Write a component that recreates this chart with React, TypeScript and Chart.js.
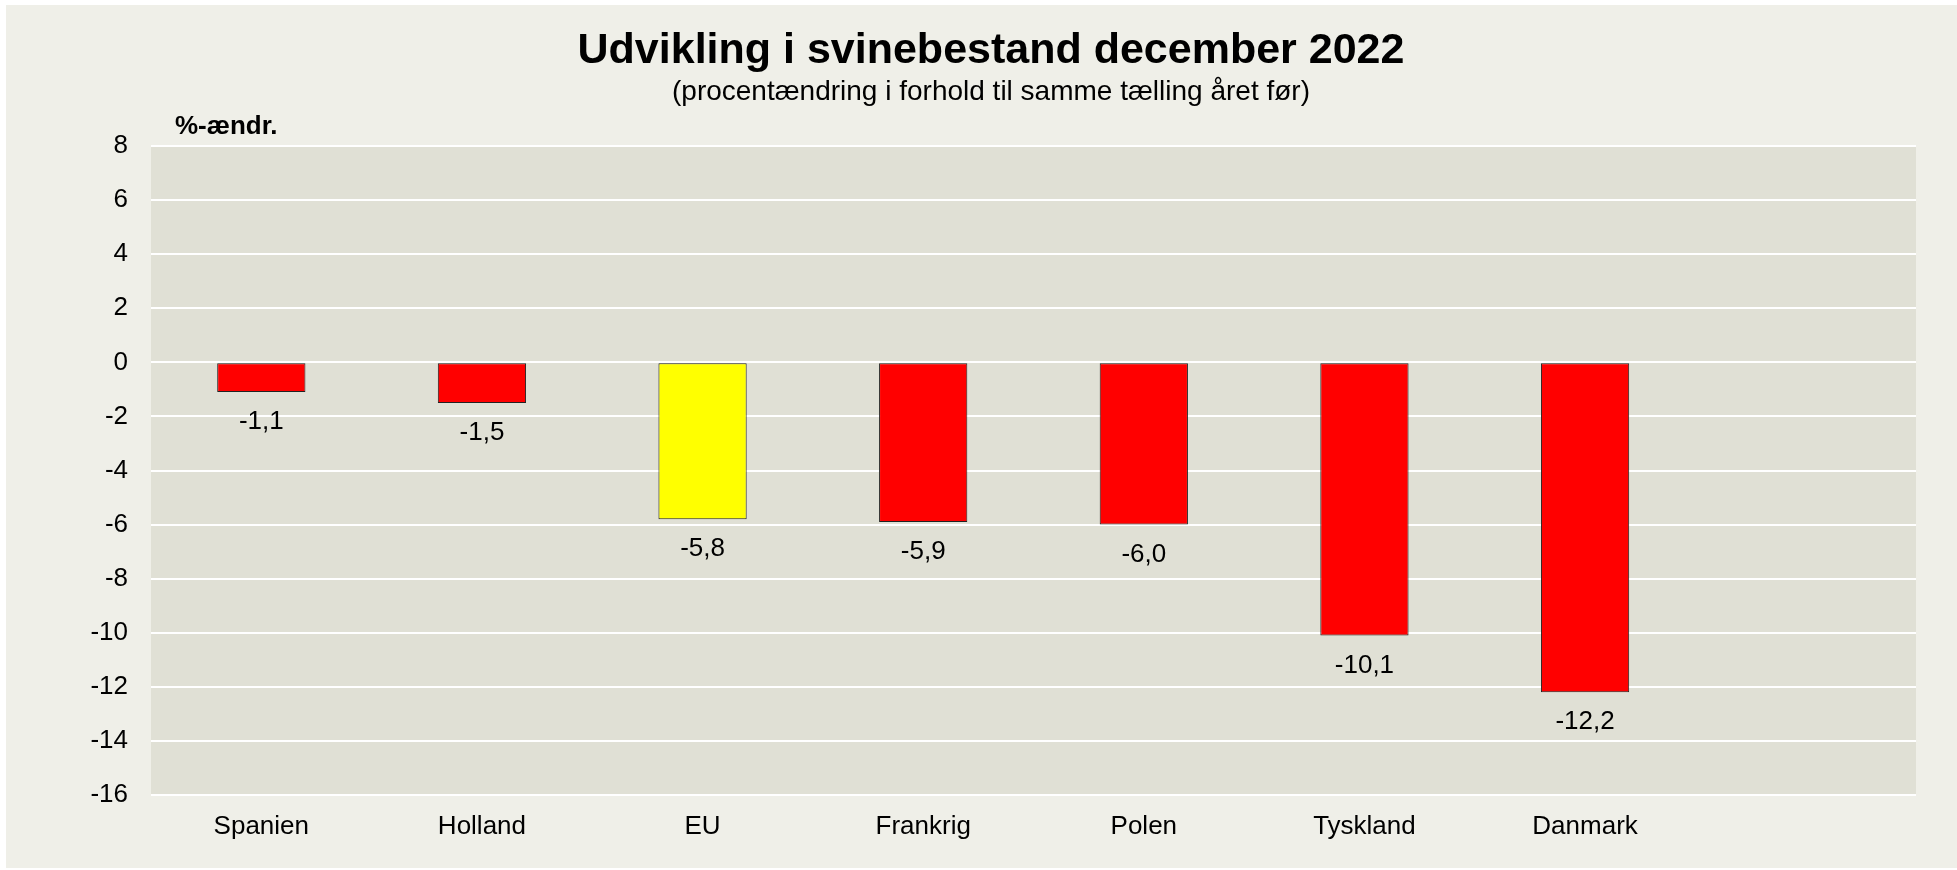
import React, { useEffect, useRef } from "react";
import { Chart, registerables } from "chart.js";

Chart.register(...registerables);

const categories: string[] = ["Spanien", "Holland", "EU", "Frankrig", "Polen", "Tyskland", "Danmark", ""];
const values: (number | null)[] = [-1.1, -1.5, -5.8, -5.9, -6.0, -10.1, -12.2, null];
const barColors: string[] = ["#FF0000", "#FF0000", "#FFFF00", "#FF0000", "#FF0000", "#FF0000", "#FF0000", "#FF0000"];
const titleText = "Udvikling i svinebestand december 2022";
const subtitleText = "(procentændring i forhold til samme tælling året før)";
const yUnitLabel = "%-ændr.";
const yMin = -16;
const yMax = 8;
const yStep = 2;

const FONT = "'Liberation Sans', Arial, sans-serif";

export default function App() {
  const ref = useRef<HTMLCanvasElement | null>(null);

  useEffect(() => {
    document.body.style.margin = "0";
    const canvas = ref.current;
    if (!canvas) return;

    const bgPlugin = {
      id: "bgPlugin",
      beforeDraw(chart: any) {
        const { ctx, width, height, chartArea } = chart;
        ctx.save();
        ctx.fillStyle = "#FFFFFF";
        ctx.fillRect(0, 0, width, height);
        ctx.fillStyle = "#EFEFE8";
        ctx.fillRect(6, 5, width - 6, height - 7);
        ctx.fillStyle = "#E0E0D5";
        ctx.fillRect(chartArea.left, chartArea.top, chartArea.right - chartArea.left, chartArea.bottom - chartArea.top);
        ctx.restore();
      },
    };

    const labelPlugin = {
      id: "labelPlugin",
      afterDatasetsDraw(chart: any) {
        const { ctx, chartArea } = chart;
        ctx.save();
        ctx.fillStyle = "#000";
        ctx.font = `bold 26px ${FONT}`;
        ctx.textAlign = "left";
        ctx.textBaseline = "middle";
        ctx.fillText(yUnitLabel, chartArea.left + 24, chartArea.top - 19);

        ctx.font = `26px ${FONT}`;
        ctx.textAlign = "center";
        const meta = chart.getDatasetMeta(0);
        meta.data.forEach((bar: any, i: number) => {
          const v = values[i];
          if (v === null || v === undefined) return;
          const txt = v.toFixed(1).replace(".", ",");
          const y = v < 0 ? bar.y + 30 : bar.y - 30;
          ctx.fillText(txt, bar.x, y);
        });
        ctx.restore();
      },
    };

    const chart = new Chart(canvas, {
      type: "bar",
      data: {
        labels: categories,
        datasets: [
          {
            data: values,
            backgroundColor: barColors,
            borderColor: "#222",
            borderWidth: 1,
            borderSkipped: false,
            categoryPercentage: 1,
            barPercentage: 0.4,
          },
        ],
      },
      options: {
        animation: false,
        responsive: false,
        maintainAspectRatio: false,
        layout: { padding: { left: 66, right: 41, top: 0, bottom: 0 } },
        plugins: {
          legend: { display: false },
          tooltip: { enabled: false },
          title: {
            display: true,
            text: titleText,
            color: "#000",
            font: { family: FONT, size: 43, weight: "bold", lineHeight: 1.15 },
            padding: { top: 26, bottom: 0 },
          },
          subtitle: {
            display: true,
            text: subtitleText,
            color: "#000",
            font: { family: FONT, size: 28, lineHeight: 1.2 },
            padding: { top: 0, bottom: 37 },
          },
        },
        scales: {
          x: {
            grid: { display: false, drawTicks: false },
            border: { display: false },
            ticks: { color: "#000", font: { family: FONT, size: 26 }, padding: 16, maxRotation: 0, autoSkip: false },
            afterFit(scale: any) {
              scale.height = 75;
            },
          },
          y: {
            min: yMin,
            max: yMax,
            grid: { color: "#FFFFFF", lineWidth: 2, drawTicks: false },
            border: { display: false },
            ticks: { stepSize: yStep, color: "#000", font: { family: FONT, size: 26 }, padding: 23 },
            afterFit(scale: any) {
              scale.width = 85;
            },
          },
        },
      },
      plugins: [bgPlugin, labelPlugin],
    } as any);

    return () => chart.destroy();
  }, []);

  return (
    <div style={{ position: "absolute", left: 0, top: 0, width: 1957, height: 870 }}>
      <canvas ref={ref} width={1957} height={870} style={{ width: 1957, height: 870, display: "block" }} />
    </div>
  );
}
